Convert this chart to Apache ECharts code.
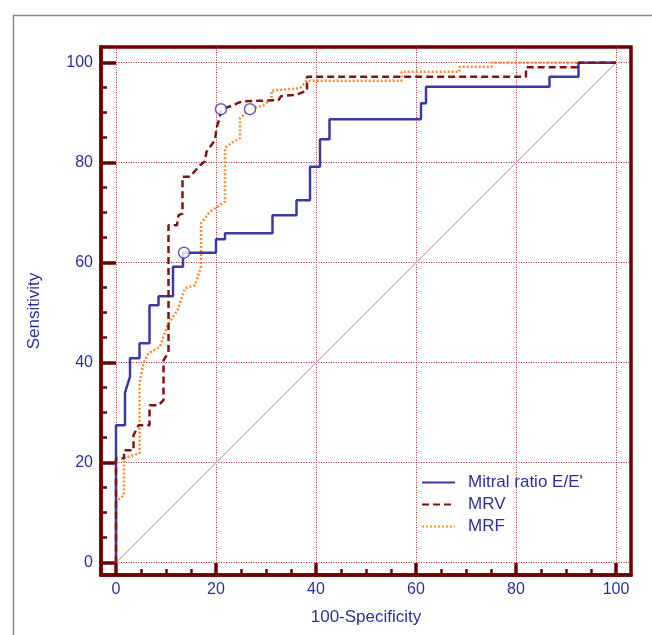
<!DOCTYPE html>
<html>
<head>
<meta charset="utf-8">
<script src="https://cdn.jsdelivr.net/npm/echarts@6/dist/echarts.min.js"></script>
<style>
  html, body { margin: 0; padding: 0; background: #fff; }
  #roc-chart { width: 652px; height: 635px; }
</style>
</head>
<body>
<div id="roc-chart"></div>
<script>
// 数据
const mitralPts = [[0,0],[0,27.5],[1.8,27.5],[1.8,34],[2.8,37.2],[2.8,40.9],[4.7,40.9],[4.7,43.9],[6.7,43.9],[6.7,51.5],[8.5,51.5],[8.5,53.3],[11.4,53.3],[11.4,59.2],[13.4,59.2],[13.4,62],[20,62],[20,64.7],[21.8,64.7],[21.8,65.9],[31.3,65.9],[31.3,69.5],[36.1,69.5],[36.1,72.5],[38.8,72.5],[38.8,79.2],[40.8,79.2],[40.8,84.7],[42.7,84.7],[42.7,88.7],[61,88.7],[61,91.9],[62,91.9],[62,95.2],[86.7,95.2],[86.7,97.2],[92.5,97.2],[92.5,100],[100,100]];
const mrvPts = [[0,0],[0,20.9],[1.6,20.9],[1.6,22.5],[3.5,22.5],[3.5,25.5],[4.5,27.5],[6.7,27.5],[6.7,31.5],[8.5,31.5],[9.5,32.5],[9.5,40.5],[10.5,42],[10.5,67.5],[12.2,67.5],[12.5,69.5],[13.3,69.8],[13.3,77.2],[14.8,77.2],[16.8,79.5],[17.8,80.3],[18.1,82.2],[19.8,84.5],[20.1,86.9],[20.8,89.2],[21,90.7],[22,91],[23.5,91.5],[24.5,92],[25.5,92.3],[32.5,92.5],[33,93.3],[36,93.6],[38.2,94.4],[38.2,97.2],[82,97.2],[82,99.1],[92.5,99.1],[92.5,100],[100,100]];
const mrfPts = [[0,0],[0,12.2],[1.6,13.5],[1.6,20.9],[4.7,21.9],[4.7,35.9],[5.5,39.9],[6.5,41.9],[8.8,43.2],[10.3,47.5],[12.3,50.5],[13.8,54.9],[15.8,55.5],[17,59.2],[17,67.9],[18.8,70.2],[21.8,72.2],[21.8,83],[23.5,84.2],[24.8,84.9],[24.8,88.9],[26.8,90.7],[29.5,91.5],[31.1,92.7],[31.1,94.4],[36.8,94.9],[38.1,96.4],[57.1,96.4],[57.1,98.2],[68.7,98.2],[68.7,99.2],[75.1,99.2],[75.1,100],[100,100]];
const cutoffPts = [[13.6,62],[21,90.7],[26.8,90.7]];
const diagPts = [[0,0],[100,100]];
const majorTicks = [0,20,40,60,80,100];
const minorTicks = [5,10,15,25,30,35,45,50,55,65,70,75,85,90,95];
const seriesNames = ["Mitral ratio E/E'", 'MRV', 'MRF'];

const frameColor = '#6e0000';
const textBlue = '#2e2e9c';

function drawRocChart(){
  const chartDom = document.getElementById('roc-chart');
  const chart = echarts.init(chartDom);
  const font = 'Liberation Sans, Arial, sans-serif';

  const majorAxis = (isX) => ({
    type: 'value',
    position: isX ? 'bottom' : 'left',
    min: isX ? -3 : -2.46,
    max: isX ? 103 : 103.14,
    name: isX ? '100-Specificity' : 'Sensitivity',
    nameLocation: 'middle',
    nameGap: isX ? 34 : 58,
    nameRotate: isX ? 0 : 90,
    nameTextStyle: { color: textBlue, fontSize: 17, fontFamily: font },
    axisLine: { show: true, onZero: false, lineStyle: { color: frameColor, width: 3.5 } },
    axisTick: { show: true, inside: true, customValues: majorTicks, length: isX ? 12 : 15,
      lineStyle: { color: frameColor, width: 3.5 } },
    axisLabel: { customValues: majorTicks, color: textBlue, fontSize: 16, fontFamily: font, margin: isX ? 7 : 8 },
    splitLine: { show: true, lineStyle: { color: '#a02828', width: 1, type: [1, 1.5] } }
  });
  // 小刻度用第二个轴画
  const minorAxis = (isX) => ({
    type: 'value',
    position: isX ? 'bottom' : 'left',
    offset: 0,
    min: isX ? -3 : -2.46,
    max: isX ? 103 : 103.14,
    axisLine: { show: false, onZero: false },
    axisTick: { show: true, inside: true, customValues: minorTicks, length: 6,
      lineStyle: { color: frameColor, width: 2.5 } },
    axisLabel: { show: false, customValues: minorTicks },
    splitLine: { show: false }
  });

  const option = {
    animation: false,
    textStyle: { fontFamily: font },
    graphic: [
      { type: 'rect', left: 11, top: 13, shape: { width: 700, height: 700 },
        style: { fill: 'none', stroke: '#888', lineWidth: 1.5 }, z: -10 }
    ],
    grid: { left: 101, top: 47, right: 21, bottom: 60, show: true,
      borderColor: frameColor, borderWidth: 3.5, backgroundColor: 'transparent' },
    legend: {
      data: seriesNames, orient: 'vertical', left: 421, top: 474, padding: 0,
      itemWidth: 33, itemHeight: 14, itemGap: 5,
      itemStyle: { opacity: 0 },
      textStyle: { color: textBlue, fontSize: 17, lineHeight: 17, padding: [0, 0, 0, 8] }
    },
    xAxis: [majorAxis(true), minorAxis(true)],
    yAxis: [majorAxis(false), minorAxis(false)],
    series: [
      { name: 'diag', type: 'line', data: diagPts, symbol: 'none', silent: true,
        lineStyle: { color: '#c48484', width: 1 }, z: 1 },
      { name: seriesNames[0], type: 'line', data: mitralPts, symbol: 'none',
        itemStyle: { color: '#3a3aa6' },
        lineStyle: { color: '#3a3aa6', width: 2.5 }, z: 3 },
      { name: seriesNames[1], type: 'line', data: mrvPts, symbol: 'none',
        itemStyle: { color: '#7d1515' },
        lineStyle: { color: '#7d1515', width: 2.5, type: [7, 4] }, z: 4 },
      { name: seriesNames[2], type: 'line', data: mrfPts, symbol: 'none',
        itemStyle: { color: '#ff8a33' },
        lineStyle: { color: '#ff8a33', width: 2.5, type: [2, 2] }, z: 2 },
      { name: 'cutoff', type: 'scatter', data: cutoffPts, symbol: 'circle', symbolSize: 11,
        itemStyle: { color: '#fff', borderColor: '#3a3aa6', borderWidth: 1.5 }, z: 6 }
    ]
  };
  chart.setOption(option);
  return chart;
}

drawRocChart();
</script>
</body>
</html>
